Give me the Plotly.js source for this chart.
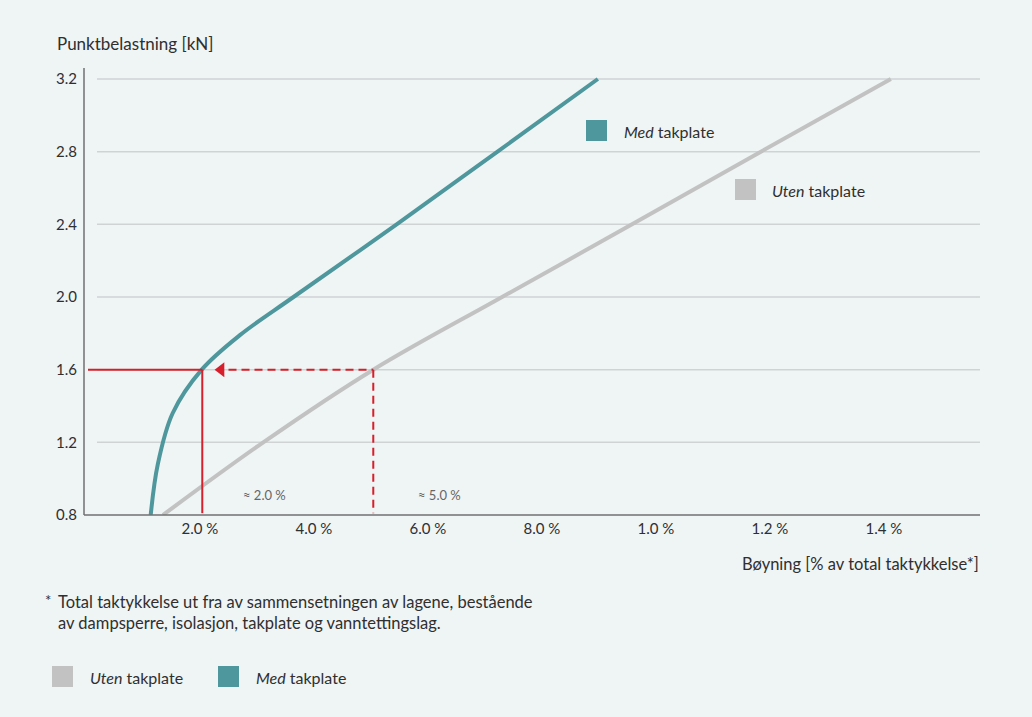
<!DOCTYPE html>
<html>
<head>
<meta charset="utf-8">
<script src="https://cdn.plot.ly/plotly-3.0.1.min.js"></script>
<style>
  html, body { margin: 0; padding: 0; background: #eff4f5; }
  #chart { width: 1032px; height: 717px; }
</style>
</head>
<body>
<div id="chart"></div>
<script>
// ---- data ----
const medX = [1.135, 1.26, 1.52, 2.03, 2.70, 3.64, 5.45, 7.22, 8.98];
const medY = [0.8, 1.08, 1.36, 1.6, 1.79, 2.0, 2.4, 2.8, 3.2];
const utenX = [1.35, 3.11, 5.04, 7.30, 9.58, 11.84, 14.12];
const utenY = [0.8, 1.2, 1.6, 2.0, 2.4, 2.8, 3.2];
const xTickVals = [2, 4, 6, 8, 10, 12, 14];
const xTickText = ['2.0 %', '4.0 %', '6.0 %', '8.0 %', '1.0 %', '1.2 %', '1.4 %'];
const yTickVals = [0.8, 1.2, 1.6, 2.0, 2.4, 2.8, 3.2];
const yTickText = ['0.8', '1.2', '1.6', '2.0', '2.4', '2.8', '3.2'];
const readLoad = 1.6;          // kN
const readMed = 2.04;          // deflection with takplate
const readUten = 5.04;         // deflection without takplate
const readLabels = ['≈ 2.0 %', '≈ 5.0 %'];
const seriesNames = ['Uten', 'Med'];

// ---- styles ----
const TEAL = '#4e979c';
const GREY = '#c2c2c2';
const RED = '#d71f2b';
const TXT = '#2f2f2f';
const BG = '#eff4f5';
const GRID = '#cfd3d4';
const FONT = 'Lato, "Open Sans", sans-serif';

// plot area in pixels
const L = 84, R = 980, T = 68, B = 515;
const PX = p => (p - L) / (R - L);
const PY = p => (B - p) / (B - T);

const traces = [
  { x: utenX, y: utenY, mode: 'lines', line: { color: GREY, width: 4, shape: 'spline', smoothing: 1.0 }, hoverinfo: 'skip', showlegend: false },
  { x: medX, y: medY, mode: 'lines', line: { color: TEAL, width: 4, shape: 'spline', smoothing: 1.0 }, hoverinfo: 'skip', showlegend: false },
  { x: [2.37], y: [readLoad], mode: 'markers', marker: { symbol: 'triangle-left', size: 13, color: RED }, hoverinfo: 'skip', showlegend: false }
];

const shapes = [];
// gridlines
yTickVals.slice(1).forEach(v => {
  shapes.push({ type: 'line', xref: 'paper', yref: 'y', x0: PX(97), x1: 1, y0: v, y1: v, line: { color: GRID, width: 1.5 }, layer: 'below' });
});
// axis lines
shapes.push({ type: 'line', xref: 'paper', yref: 'paper', x0: 0, x1: 0, y0: 0, y1: 1, line: { color: '#707070', width: 1.5 } });
shapes.push({ type: 'line', xref: 'paper', yref: 'paper', x0: 0, x1: 1, y0: 0, y1: 0, line: { color: '#707070', width: 1.5 } });
// red reading lines
shapes.push({ type: 'line', xref: 'paper', yref: 'y', x0: PX(88), x1: PX(86 + readMed * 57), y0: readLoad, y1: readLoad, line: { color: RED, width: 2 } });
shapes.push({ type: 'line', xref: 'x', yref: 'y', x0: readMed, x1: readMed, y0: readLoad, y1: 0.81, line: { color: RED, width: 2 } });
shapes.push({ type: 'line', xref: 'x', yref: 'y', x0: 2.5, x1: readUten, y0: readLoad, y1: readLoad, line: { color: RED, width: 2, dash: '8px,5px' } });
shapes.push({ type: 'line', xref: 'x', yref: 'y', x0: readUten, x1: readUten, y0: readLoad, y1: 0.81, line: { color: RED, width: 2, dash: '8px,5px' } });
// legend squares
function sq(x0, y0, c) {
  shapes.push({ type: 'rect', xref: 'paper', yref: 'paper', x0: PX(x0), x1: PX(x0 + 21), y0: PY(y0), y1: PY(y0 + 21), fillcolor: c, line: { width: 0 } });
}
sq(586, 120, TEAL);
sq(735, 179, GREY);
sq(52, 666, GREY);
sq(218, 666, TEAL);

const ann = [];
function txt(x, y, text, size, color, anchor) {
  ann.push({ xref: 'paper', yref: 'paper', x: PX(x), y: PY(y), text: text, showarrow: false,
    xanchor: anchor || 'left', yanchor: 'middle', font: { family: FONT, size: size, color: color || TXT } });
}
txt(55, 43, 'Punktbelastning [kN]', 17);
txt(981, 564, 'Bøyning [% av total taktykkelse*]', 16.5, TXT, 'right');
txt(622, 131, '<i>' + seriesNames[1] + '</i> takplate', 16);
txt(770, 190, '<i>' + seriesNames[0] + '</i> takplate', 16);
txt(88, 677, '<i>' + seriesNames[0] + '</i> takplate', 16);
txt(254, 677, '<i>' + seriesNames[1] + '</i> takplate', 16);
txt(43, 600, '*', 15);
txt(56, 602, 'Total taktykkelse ut fra av sammensetningen av lagene, bestående', 16.5);
txt(56, 623, 'av dampsperre, isolasjon, takplate og vanntettingslag.', 16.5);
// reading labels in data coords
ann.push({ xref: 'x', yref: 'y', x: 3.14, y: 0.91, text: readLabels[0], showarrow: false, font: { family: FONT, size: 13, color: '#666' } });
ann.push({ xref: 'x', yref: 'y', x: 6.21, y: 0.91, text: readLabels[1], showarrow: false, font: { family: FONT, size: 13, color: '#666' } });

const layout = {
  width: 1032, height: 717,
  paper_bgcolor: BG, plot_bgcolor: BG,
  margin: { l: L, r: 1032 - R, t: T, b: 717 - B, pad: 0 },
  font: { family: FONT, color: TXT },
  showlegend: false,
  xaxis: {
    range: [(L - 86) / 57, (R - 86) / 57],
    tickvals: xTickVals, ticktext: xTickText,
    showgrid: false, zeroline: false, showline: false, ticks: '',
    tickfont: { family: FONT, size: 15, color: TXT },
    ticklabelstandoff: 3, fixedrange: true
  },
  yaxis: {
    range: [0.8, 0.8 + (B - T) * 2.4 / 436],
    tickvals: yTickVals, ticktext: yTickText,
    showgrid: false, zeroline: false, showline: false, ticks: '',
    tickfont: { family: FONT, size: 15, color: TXT },
    ticklabelstandoff: 6, fixedrange: true
  },
  shapes: shapes,
  annotations: ann
};

Plotly.newPlot('chart', traces, layout, { displayModeBar: false, staticPlot: true });
</script>
</body>
</html>
